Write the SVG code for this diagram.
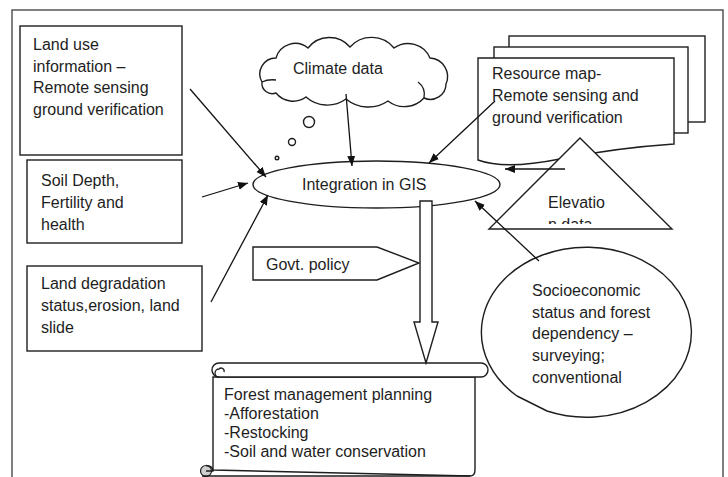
<svg xmlns="http://www.w3.org/2000/svg" width="728" height="477" viewBox="0 0 728 477">
<style>
.t{font-family:"Liberation Sans",Arial,sans-serif;font-size:16px;fill:#1e1e1e}
.s{fill:#fff;stroke:#1e1e1e;stroke-width:1.4}
.c{fill:none;stroke:#1e1e1e;stroke-width:1.3}
</style>
<defs>
<marker id="ah" markerUnits="userSpaceOnUse" markerWidth="11" markerHeight="9" refX="10" refY="4" orient="auto">
<path d="M0,0 L10,4 L0,8 z" fill="#111"/>
</marker>
<clipPath id="triclip"><rect x="480" y="150" width="200" height="74"/></clipPath>
</defs>
<rect width="728" height="477" fill="#fff"/>
<path d="M12,477 V10 H723 V477" fill="none" stroke="#555" stroke-width="1.5"/>

<g id="landuse">
<rect class="s" x="20" y="26" width="162" height="129"/>
<text class="t" x="33" y="50">Land use</text>
<text class="t" x="33" y="71.5">information –</text>
<text class="t" x="33" y="93">Remote sensing</text>
<text class="t" x="33" y="114.5">ground verification</text>
</g>

<g id="soil">
<rect class="s" x="27" y="160" width="155" height="83"/>
<text class="t" x="41" y="186">Soil Depth,</text>
<text class="t" x="41" y="208">Fertility and</text>
<text class="t" x="41" y="230">health</text>
</g>

<g id="degradation">
<rect class="s" x="27" y="266" width="175" height="85"/>
<text class="t" x="41" y="289">Land degradation</text>
<text class="t" x="41" y="311">status,erosion, land</text>
<text class="t" x="41" y="333">slide</text>
</g>

<g id="climate">
<path class="s" d="M262,82 A16,16 0 0 1 276,58 A20,20 0 0 1 308,48 A27,27 0 0 1 350,47 A29,29 0 0 1 394,48 A24,24 0 0 1 430,58 A18.6,18.6 0 0 1 446,84 A15.6,15.6 0 0 1 424,98 A26.6,26.6 0 0 1 388,101 A35,35 0 0 1 346,99 A32,32 0 0 1 306,97 A22,22 0 0 1 276,93 A10.4,10.4 0 0 1 262,82 Z"/>
<path class="c" d="M262,82 Q268,79 276,80 M424,98 Q426,88 418,82"/>
<text class="t" x="293" y="74">Climate data</text>
<circle class="s" cx="309" cy="122" r="5.5"/>
<circle class="s" cx="292" cy="142" r="3.5"/>
<circle class="s" cx="277" cy="158" r="1.8"/>
</g>

<g id="resource">
<rect class="s" x="509" y="36" width="196" height="86"/>
<rect class="s" x="494" y="47" width="194" height="86"/>
<path class="s" d="M478,58 H674 V144 Q615,148 560,159 Q505,170 478,160 Z"/>
<text class="t" x="492" y="79">Resource map-</text>
<text class="t" x="492" y="101">Remote sensing and</text>
<text class="t" x="492" y="123">ground verification</text>
</g>

<g id="elevation">
<path class="s" d="M580,138 L672,229 L489,229 Z"/>
<g clip-path="url(#triclip)">
<text class="t" x="548" y="208">Elevatio</text>
<text class="t" x="548" y="230">n data</text>
</g>
</g>

<g id="gis">
<ellipse class="s" cx="376.5" cy="184.5" rx="123.5" ry="23.5"/>
<text class="t" x="302" y="190">Integration in GIS</text>
</g>

<g id="govt">
<path class="s" d="M253,247 H377 L419,263 L377,280 H253 Z"/>
<text class="t" x="266" y="270">Govt. policy</text>
</g>

<g id="socio">
<path class="s" d="M517,396 L547,411 A105,85 0 1 0 517,396 Z"/>
<text class="t" x="532" y="296">Socioeconomic</text>
<text class="t" x="532" y="317.5">status and forest</text>
<text class="t" x="532" y="339">dependency –</text>
<text class="t" x="532" y="361">surveying;</text>
<text class="t" x="532" y="382.5">conventional</text>
</g>

<g id="forest">
<path class="s" d="M213,377 V470 L470,476 Q475,476 475,470 V377 Z"/>
<path class="s" d="M219,363 H481 A7,7 0 0 1 481,377 H219 A7,7 0 0 1 219,363 Z"/>
<path class="c" d="M219,377 A4,4 0 0 1 219,369 A3,3 0 0 1 224,372"/>
<circle cx="206" cy="471" r="5.5" fill="#cfcfcf" stroke="#1e1e1e" stroke-width="1.2"/>
<path class="c" d="M206,465.5 Q213,466 213,471 L206,471"/>
<path d="M202,476 H470" fill="none" stroke="#1e1e1e" stroke-width="1.4"/>
<text class="t" x="224" y="400">Forest management planning</text>
<text class="t" x="224" y="419">-Afforestation</text>
<text class="t" x="224" y="438">-Restocking</text>
<text class="t" x="224" y="457">-Soil and water conservation</text>
</g>

<g id="flow">
<polygon class="s" points="420,201 432,201 432,322 438,322 426,363 414,322 420,322"/>
</g>

<g id="connectors" fill="none" stroke="#111" stroke-width="1.3">
<line x1="190" y1="89" x2="266" y2="177" marker-end="url(#ah)"/>
<line x1="202" y1="197" x2="248" y2="183" marker-end="url(#ah)"/>
<line x1="211" y1="302" x2="268" y2="195" marker-end="url(#ah)"/>
<line x1="346" y1="94" x2="352" y2="166" marker-end="url(#ah)"/>
<line x1="495" y1="101" x2="429" y2="163" marker-end="url(#ah)"/>
<line x1="565" y1="169" x2="505" y2="169" marker-end="url(#ah)"/>
<line x1="539" y1="261" x2="475" y2="201" marker-end="url(#ah)"/>
</g>
</svg>
